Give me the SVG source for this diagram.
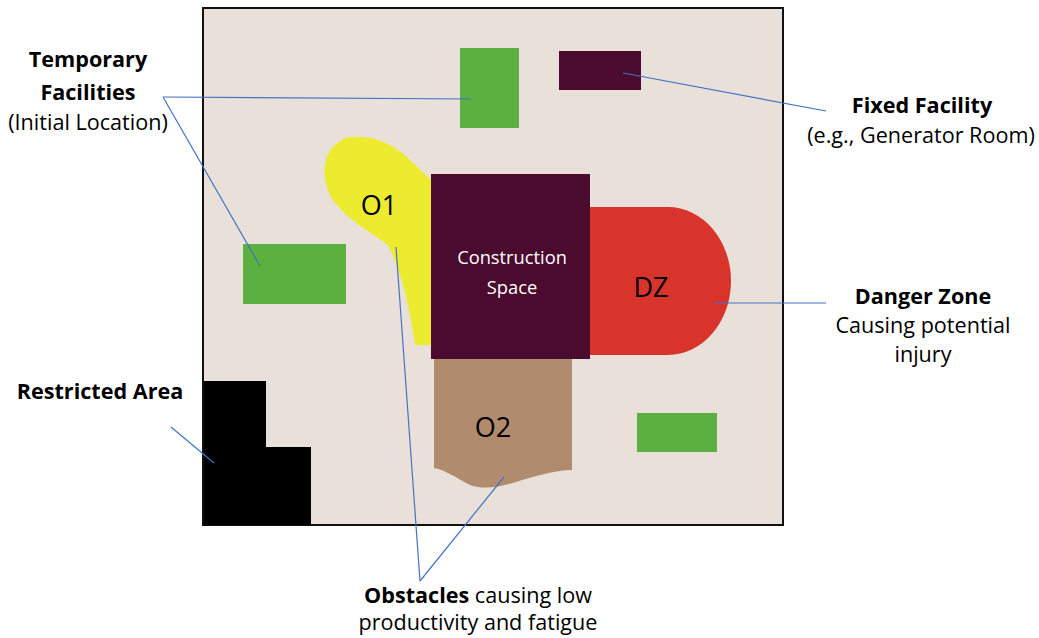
<svg xmlns="http://www.w3.org/2000/svg" width="1039" height="638" viewBox="0 0 1039 638">
  <style>
    .lbl { font-family: "Open Sans", Lato, "Liberation Sans", sans-serif; font-size: 21.6px; fill: #000; text-anchor: middle; }
    .b { font-weight: bold; }
    .tag { font-family: "Open Sans", Lato, "Liberation Sans", sans-serif; font-size: 27px; fill: #000; text-anchor: middle; }
    .cs { font-family: "Open Sans", Lato, "Liberation Sans", sans-serif; font-size: 18.3px; fill: #fff; text-anchor: middle; }
    .green { fill: #5BB040; }
    .maroon { fill: #4A0B2E; }
    .conn line { stroke: #4472C4; stroke-width: 1.2; fill: none; }
  </style>

  <rect width="1039" height="638" fill="#fff"/>

  <!-- site plan -->
  <g id="site">
    <rect x="203" y="8" width="580" height="517" fill="#E9E1D9" stroke="#111" stroke-width="2"/>
  </g>

  <g id="temp-facility-top"><rect class="green" x="460" y="48" width="59" height="80"/></g>
  <g id="fixed-facility"><rect class="maroon" x="559" y="51" width="82" height="39"/></g>
  <g id="temp-facility-left"><rect class="green" x="243" y="244" width="103" height="60"/></g>
  <g id="temp-facility-right"><rect class="green" x="637" y="413" width="80" height="39"/></g>

  <g id="obstacle-o1">
    <path fill="#EDEB2F" d="M345,138 C372,133 395,145 410,160 L431,180 L431,345 L415,345 C410,310 402,272 388,245 C370,232 345,218 333,200 C320,180 320,150 345,138 Z"/>
    <text class="tag" x="379" y="215">O1</text>
  </g>

  <g id="danger-zone">
    <path fill="#D9342B" d="M588,207 H668 A63,74 0 0 1 668,355 H588 Z"/>
    <text class="tag" x="651" y="297">DZ</text>
  </g>

  <g id="obstacle-o2">
    <path fill="#B08B6D" d="M434,359 H572 V470 C555,470 532,477 516,482 C500,487 484,490 470,485 C456,478 446,470 434,468 Z"/>
    <text class="tag" x="493" y="437">O2</text>
  </g>

  <g id="construction-space">
    <rect class="maroon" x="431" y="174" width="159" height="185"/>
    <text class="cs" x="512" y="264">Construction</text>
    <text class="cs" x="512" y="294">Space</text>
  </g>

  <g id="restricted-area">
    <path fill="#000" d="M204,381 H266 V447 H311 V525 H204 Z"/>
  </g>

  <!-- callout lines -->
  <g class="conn" id="connectors">
    <line x1="163" y1="97" x2="471" y2="99"/>
    <line x1="163" y1="97" x2="260" y2="266"/>
    <line x1="623" y1="73" x2="826" y2="111"/>
    <line x1="714" y1="303" x2="826" y2="303"/>
    <line x1="171" y1="427" x2="214" y2="463"/>
    <line x1="420" y1="581" x2="396" y2="247"/>
    <line x1="420" y1="581" x2="504" y2="477"/>
  </g>

  <!-- labels -->
  <g id="label-temporary">
    <text class="lbl b" x="88" y="67">Temporary</text>
    <text class="lbl b" x="88" y="100">Facilities</text>
    <text class="lbl" x="88" y="130">(Initial Location)</text>
  </g>
  <g id="label-fixed">
    <text class="lbl b" x="922" y="113">Fixed Facility</text>
    <text class="lbl" x="921" y="143">(e.g., Generator Room)</text>
  </g>
  <g id="label-danger">
    <text class="lbl b" x="923" y="304">Danger Zone</text>
    <text class="lbl" x="923" y="333">Causing potential</text>
    <text class="lbl" x="923" y="362">injury</text>
  </g>
  <g id="label-restricted">
    <text class="lbl b" x="100" y="399">Restricted Area</text>
  </g>
  <g id="label-obstacles">
    <text class="lbl" x="478" y="603"><tspan class="b">Obstacles</tspan> causing low</text>
    <text class="lbl" x="478" y="630">productivity and fatigue</text>
  </g>
</svg>
